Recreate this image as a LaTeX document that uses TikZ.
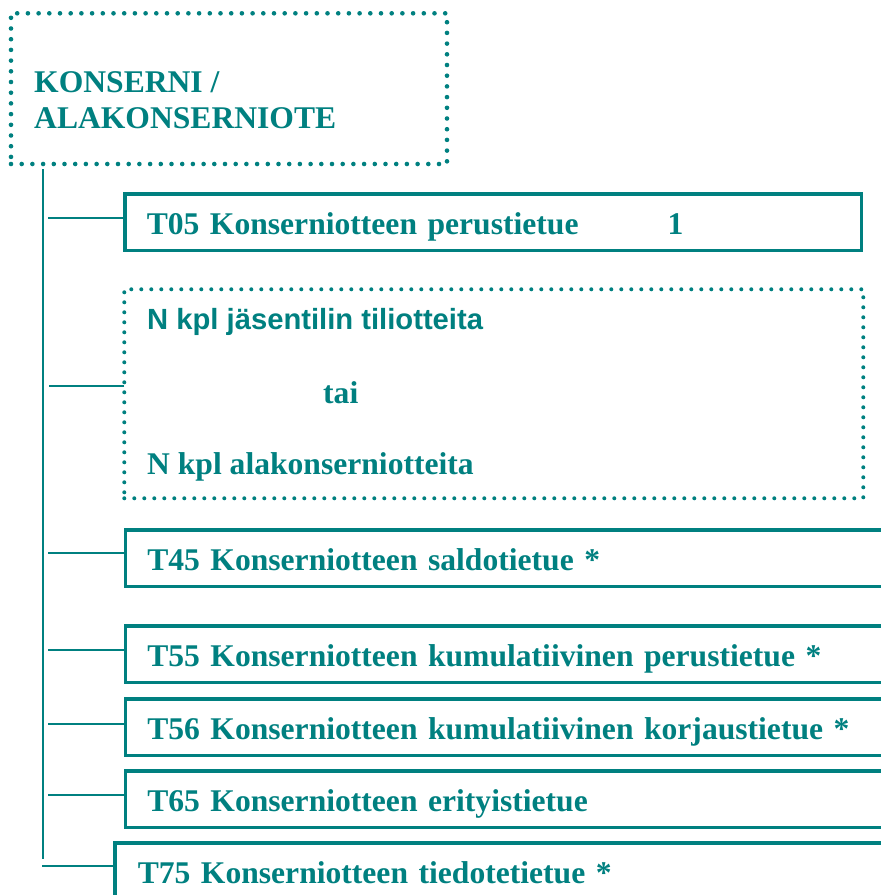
\documentclass[tikz,border=0pt]{standalone}
\usepackage{fontspec}
\setmainfont{Liberation Serif}
\setsansfont{Liberation Sans}
\definecolor{tl}{RGB}{0,128,128}
\begin{document}
\begin{tikzpicture}[x=1pt,y=-1pt,
  conn/.style={draw=tl, line width=2pt},
  solidbox/.style={draw=tl, line width=3.5pt, anchor=north west, outer sep=0pt,
    inner xsep=22pt, inner ysep=0pt, text height=25pt, text depth=0pt,
    minimum height=56.5pt, align=left, text=tl,
    font=\bfseries\fontsize{31.6}{36}\selectfont},
  dotbox/.style={draw=tl, line width=4.6pt, line cap=round, dash pattern=on 0pt off 10.7pt,
    anchor=north west, outer sep=0pt, inner sep=0pt},
  lbl/.style={anchor=base west, inner sep=0pt, text=tl,
    font=\bfseries\fontsize{31.6}{36}\selectfont}]
\useasboundingbox (0,0) rectangle (881,895);
\clip (0,0) rectangle (881,895);

% top dotted box
\node[dotbox, minimum width=436pt, minimum height=150.7pt] (top) at (11,13.3) {};
\node[lbl] (title1) at (34,92) {KONSERNI /};
\node[lbl] (title2) at (34,128) {ALAKONSERNIOTE};

% record boxes
\node[solidbox, text width=692.5pt] (t05) at (124.75,193.75)
  {\makebox[521pt][l]{T05 Konserniotteen perustietue}1};

\node[dotbox, line width=4pt, dash pattern=on 0pt off 10pt,
  minimum width=739pt, minimum height=209pt] (members) at (124.3,289.3) {};
\node[lbl, font=\sffamily\bfseries\fontsize{29.2}{34}\selectfont] (m1) at (147,329) {N kpl jäsentilin tiliotteita};
\node[lbl] (m2) at (323,403) {tai};
\node[lbl] (m3) at (147,474) {N kpl alakonserniotteita};

\node[solidbox, text width=750.75pt] (t45) at (125.25,529.75) {T45 Konserniotteen saldotietue *};
\node[solidbox, text width=750.75pt] (t55) at (125.25,625.75) {T55 Konserniotteen kumulatiivinen perustietue *};
\node[solidbox, text width=750.75pt] (t56) at (125.25,698.75) {T56 Konserniotteen kumulatiivinen korjaustietue *};
\node[solidbox, text width=750.75pt] (t65) at (125.25,770.75) {T65 Konserniotteen erityistietue};
\node[solidbox, inner xsep=23pt, text width=759.25pt] (t75) at (114.75,842.75) {T75 Konserniotteen tiedotetietue *};

% trunk and branches
\coordinate (trunktop) at (43,169);
\coordinate (trunkend) at (43,859);
\draw[conn] (trunktop) -- (trunkend);
\draw[conn] ([yshift=4pt]t05.west) -- +(-76.75,0);
\draw[conn] ([yshift=7.8pt]members.west) -- +(-75.3,0);
\draw[conn] ([yshift=5pt]t45.west) -- +(-77.25,0);
\draw[conn] ([yshift=4pt]t55.west) -- +(-77.25,0);
\draw[conn] ([yshift=3.5pt]t56.west) -- +(-77.25,0);
\draw[conn] ([yshift=4pt]t65.west) -- +(-77.25,0);
\draw[conn] ([yshift=5pt]t75.west) -- +(-72.75,0);
\end{tikzpicture}
\end{document}
